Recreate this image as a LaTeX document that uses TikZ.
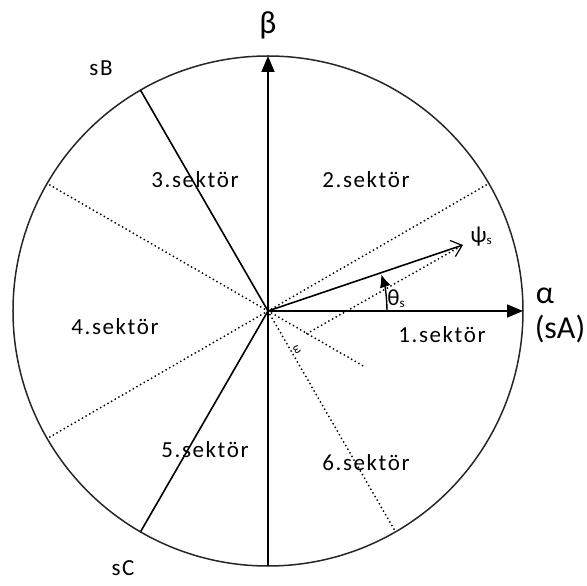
\documentclass[tikz,border=0pt]{standalone}
\usepackage{fontspec}
\setmainfont{Carlito}
\usetikzlibrary{arrows.meta}

\begin{document}
\begin{tikzpicture}[x=1pt, y=1pt,
  every node/.style={font=\fontsize{23}{25}\selectfont\addfontfeature{LetterSpace=7}},
  axis/.style={line width=1.6pt, -{Triangle[length=16pt, width=13pt]}},
  phase/.style={line width=1.6pt},
  border/.style={dash pattern=on 0pt off 4.2pt, line cap=round, line width=2pt},
  big/.style={font=\fontsize{32}{34}\selectfont}]
	\useasboundingbox (-268,-275) rectangle (319,311);
	\coordinate (O) at (0,0);
	\draw[line width=1.5pt, black!85] (O) circle (255);
	% alpha and beta axes
	\coordinate (bottom) at (0,-255);
	\coordinate (top) at (0,255);
	\coordinate (right) at (255,0);
	\draw[axis] (bottom) -- (top);
	\draw[axis] (O) -- (right);
	\node[big] (beta) at (0,286) {β};
	\node[big] (alpha) at (277,15) {α};
	\node[big] (sA) at (292,-18) {(sA)};
	% phase axes sB and sC
	\coordinate (pB) at (120:255);
	\coordinate (pC) at (240:255);
	\draw[phase] (O) -- (pB);
	\draw[phase] (O) -- (pC);
	\node (sB) at (-167,243) {sB};
	\node (sC) at (-145,-257) {sC};
	% sector borders
	\foreach \a in {30,150,210,300} {\draw[border] (O) -- (\a:255);}
	\coordinate (P) at (-30:45);
	\draw[border] (O) -- (-30:110);
	% flux vector
	\coordinate (tip) at (195,66);
	\draw[border] (P) -- (tip);
	\draw[line width=1.6pt, -{Straight Barb[length=10pt, width=17pt, line width=1.2pt]}] (O) -- (tip);
	\draw[line width=1.4pt, -{Latex[length=13pt, width=11pt]}] (0:119) arc (0:18:119);
	\node (psi) at (213,74) {ψ{\fontsize{13}{13}\selectfont\raisebox{-2pt}{s}}};
	\node (theta) at (128,12) {θ{\fontsize{13}{13}\selectfont\raisebox{-2pt}{s}}};
	\node[font=\fontsize{12}{12}\selectfont, rotate=-60] (omega) at (29,-39) {ω};
	% sector names
	\node (s1) at (174,-24) {1.sektör};
	\node (s2) at (98,131) {2.sektör};
	\node (s3) at (-73,131) {3.sektör};
	\node (s4) at (-153,-16) {4.sektör};
	\node (s5) at (-63,-139) {5.sektör};
	\node (s6) at (98,-152) {6.sektör};
\end{tikzpicture}
\end{document}
